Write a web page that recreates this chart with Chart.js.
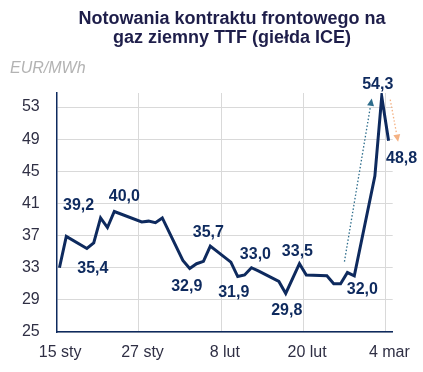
<!DOCTYPE html>
<html>
<head>
<meta charset="utf-8">
<script src="https://cdn.jsdelivr.net/npm/chart.js@4.4.1/dist/chart.umd.min.js"></script>
<style>
  html, body { margin: 0; padding: 0; background: #fff; }
  #wrap { width: 423px; height: 372px; position: relative; }
</style>
</head>
<body>
<div id="wrap"><canvas id="ttf"></canvas></div>
<script>
// TTF front-month (ICE), EUR/MWh - trading days 15.01 - 04.03
const dates = ['15.01', '16.01', '19.01', '20.01', '21.01', '22.01', '23.01',
  '27.01', '28.01', '29.01', '30.01', '02.02', '03.02', '04.02', '05.02', '06.02',
  '09.02', '10.02', '11.02', '12.02', '13.02', '16.02', '17.02', '19.02', '20.02',
  '23.02', '24.02', '25.02', '26.02', '27.02', '02.03', '03.03', '04.03'];
const prices = [33.0, 36.9, 35.4, 36.1, 39.2, 38.0, 40.0,
  38.7, 38.8, 38.6, 39.2, 33.9, 32.9, 33.5, 33.8, 35.7,
  33.7, 31.9, 32.1, 33.0, 32.6, 31.3, 29.8, 33.5, 32.1,
  32.0, 31.0, 31.0, 32.4, 32.0, 44.4, 54.3, 48.8];
const labelled = ['21.01', '19.01', '23.01', '03.02', '06.02', '10.02',
  '12.02', '17.02', '19.02', '27.02', '03.03', '04.03'];
const tickDates = ['15.01', '27.01', '08.02', '20.02', '04.03'];
const tickLabels = ['15 sty', '27 sty', '8 lut', '20 lut', '4 mar'];
const yTicks = [25, 29, 33, 37, 41, 45, 49, 53];

const NAVY = '#0e2a5e';
const FONT = '"Liberation Sans", Arial, sans-serif';
const START = Date.UTC(2026, 0, 15);
const dayShift = 0.4;

function dayOf(s) {
  const [d, m] = s.split('.').map(Number);
  return (Date.UTC(2026, m - 1, d) - START) / 86400000;
}
function fmt(v) { return v.toFixed(1).replace('.', ','); }

function arrow(ctx, x0, y0, x1, y1, color) {
  const ang = Math.atan2(y1 - y0, x1 - x0), head = 8;
  ctx.strokeStyle = color;
  ctx.fillStyle = color;
  ctx.lineWidth = 1.3;
  ctx.setLineDash([1.5, 2]);
  ctx.beginPath();
  ctx.moveTo(x0, y0);
  ctx.lineTo(x1 - Math.cos(ang) * head, y1 - Math.sin(ang) * head);
  ctx.stroke();
  ctx.setLineDash([]);
  ctx.beginPath();
  ctx.moveTo(x1, y1);
  ctx.lineTo(x1 - head * Math.cos(ang - 0.45), y1 - head * Math.sin(ang - 0.45));
  ctx.lineTo(x1 - head * Math.cos(ang + 0.45), y1 - head * Math.sin(ang + 0.45));
  ctx.closePath();
  ctx.fill();
}

const annotate = {
  id: 'annotate',
  afterDraw(chart, args, opts) {
    const { ctx, scales: { x, y } } = chart;
    const px = d => x.getPixelForValue(dayOf(d));
    const py = d => y.getPixelForValue(prices[dates.indexOf(d)]);
    ctx.save();

    // header
    ctx.fillStyle = '#1e1e4a';
    ctx.font = 'bold 18px ' + FONT;
    ctx.textAlign = 'center';
    ctx.textBaseline = 'alphabetic';
    ctx.fillText('Notowania kontraktu frontowego na', 232, 23.5);
    ctx.fillText('gaz ziemny TTF (giełda ICE)', 232, 43);
    ctx.fillStyle = '#b3b3b3';
    ctx.font = 'italic 16px ' + FONT;
    ctx.textAlign = 'left';
    ctx.fillText('EUR/MWh', 10, 73);

    // arrows
    opts.arrows.forEach(a => {
      arrow(ctx, px(a.from) + a.fromOff[0], py(a.from) + a.fromOff[1],
        px(a.to) + a.toOff[0], py(a.to) + a.toOff[1], a.color);
    });

    // value callouts
    ctx.fillStyle = NAVY;
    ctx.font = 'bold 16px ' + FONT;
    ctx.textAlign = 'center';
    ctx.textBaseline = 'middle';
    labelled.forEach((d, i) => {
      const [dx, dy] = opts.offsets[i];
      ctx.fillText(fmt(prices[dates.indexOf(d)]), px(d) + dx, py(d) + dy);
    });
    ctx.restore();
  }
};

new Chart(document.getElementById('ttf'), {
  type: 'line',
  data: {
    datasets: [{
      data: dates.map((d, i) => ({ x: dayOf(d), y: prices[i] })),
      borderColor: NAVY,
      borderWidth: 3,
      pointRadius: 0,
      tension: 0
    }]
  },
  options: {
    responsive: true,
    maintainAspectRatio: false,
    animation: false,
    layout: { padding: { top: 93, left: 10, right: 30.3, bottom: 10 } },
    plugins: {
      legend: { display: false },
      tooltip: { enabled: false },
      annotate: {
        offsets: [[-22, -12], [6, 20], [10, -14.5], [-3, 18], [-2, -13], [-4, 16.5],
          [4, -13], [1, 17], [-2, -12], [8, 14], [-4, -12.5], [13, 17.5]],
        arrows: [
          { from: '26.02', fromOff: [-3, -11], to: '03.03', toOff: [-10, 2], color: '#2e6d8c' },
          { from: '03.03', fromOff: [8.5, 3], to: '04.03', toOff: [9.5, 1], color: '#f4b183' }
        ]
      }
    },
    scales: {
      x: {
        type: 'linear',
        min: -dayShift,
        max: 49 - dayShift,
        afterBuildTicks: s => { s.ticks = tickDates.map(t => ({ value: dayOf(t) - dayShift })); },
        afterFit: s => { s.height = 30; },
        grid: { color: '#d9d9d9', lineWidth: 1, drawTicks: false },
        border: { color: NAVY, width: 1.5 },
        ticks: {
          padding: 11,
          labelOffset: 3.5,
          maxRotation: 0,
          autoSkip: false,
          color: '#2f2f44',
          font: { family: FONT, size: 16 },
          callback: (v, i) => tickLabels[i]
        }
      },
      y: {
        min: 25,
        max: 54.75,
        afterBuildTicks: s => { s.ticks = yTicks.map(v => ({ value: v })); },
        afterFit: s => { s.width = 46.7; },
        grid: { color: '#d9d9d9', lineWidth: 1, drawTicks: false },
        border: { color: NAVY, width: 1.5 },
        ticks: {
          padding: 17,
          color: '#2f2f44',
          font: { family: FONT, size: 16 }
        }
      }
    }
  },
  plugins: [annotate]
});
</script>
</body>
</html>
